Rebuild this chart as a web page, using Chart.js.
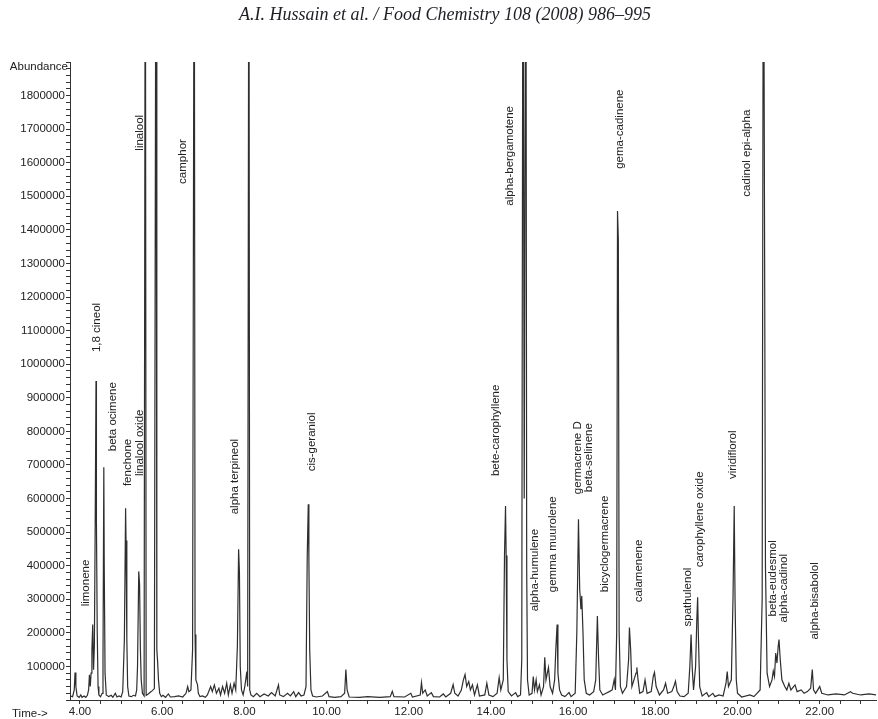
<!DOCTYPE html>
<html>
<head>
<meta charset="utf-8">
<title>Chromatogram</title>
<script src="https://cdn.jsdelivr.net/npm/chart.js@4.4.1/dist/chart.umd.min.js"></script>
<style>
  html, body { margin: 0; padding: 0; background: #fff; }
  #wrap { width: 878px; height: 719px; }
</style>
</head>
<body>
<div id="wrap"><canvas id="chart" width="878" height="719"></canvas></div>
<script>
// Retention time (min) and abundance
const timeMin = [
  3.76, 3.82, 3.86, 3.88, 3.90, 3.93, 3.98, 4.02, 4.05, 4.10,
  4.14, 4.18, 4.21, 4.23, 4.25, 4.27, 4.29, 4.31, 4.33, 4.35,
  4.37, 4.39, 4.40, 4.42, 4.44, 4.46, 4.50, 4.54, 4.56, 4.58,
  4.59, 4.61, 4.64, 4.70, 4.76, 4.80, 4.86, 4.90, 4.95, 5.00,
  5.04, 5.08, 5.11, 5.12, 5.14, 5.16, 5.19, 5.25, 5.30, 5.35,
  5.38, 5.40, 5.43, 5.45, 5.47, 5.49, 5.52, 5.56, 5.59, 5.61,
  5.66, 5.71, 5.76, 5.81, 5.85, 5.87, 5.89, 5.91, 5.94, 5.98,
  6.02, 6.08, 6.15, 6.20, 6.30, 6.40, 6.50, 6.58, 6.62, 6.65,
  6.70, 6.74, 6.78, 6.80, 6.82, 6.86, 6.88, 6.92, 6.98, 7.05,
  7.10, 7.18, 7.22, 7.27, 7.32, 7.38, 7.42, 7.47, 7.52, 7.57,
  7.61, 7.66, 7.70, 7.75, 7.79, 7.83, 7.86, 7.88, 7.90, 7.93,
  7.97, 8.01, 8.06, 8.08, 8.11, 8.13, 8.16, 8.22, 8.30, 8.38,
  8.48, 8.58, 8.66, 8.75, 8.83, 8.86, 8.95, 9.05, 9.12, 9.20,
  9.25, 9.32, 9.38, 9.45, 9.50, 9.53, 9.555, 9.57, 9.59, 9.62,
  9.66, 9.75, 9.90, 10.02, 10.06, 10.20, 10.35, 10.44, 10.47, 10.50,
  10.55, 10.80, 11.00, 11.30, 11.55, 11.60, 11.64, 11.90, 12.05, 12.09,
  12.28, 12.31, 12.34, 12.40, 12.45, 12.55, 12.60, 12.75, 12.84, 12.90,
  13.02, 13.08, 13.12, 13.20, 13.28, 13.33, 13.37, 13.41, 13.46, 13.50,
  13.55, 13.60, 13.67, 13.72, 13.85, 13.90, 13.95, 14.05, 14.15, 14.20,
  14.24, 14.30, 14.33, 14.355, 14.37, 14.39, 14.42, 14.50, 14.60, 14.65,
  14.72, 14.75, 14.78, 14.81, 14.85, 14.87, 14.89, 14.93, 15.00, 15.03,
  15.06, 15.10, 15.13, 15.18, 15.22, 15.28, 15.31, 15.34, 15.40, 15.44,
  15.50, 15.55, 15.58, 15.61, 15.63, 15.67, 15.72, 15.80, 15.90, 15.95,
  16.05, 16.09, 16.13, 16.16, 16.19, 16.21, 16.24, 16.27, 16.32, 16.40,
  16.50, 16.55, 16.59, 16.62, 16.65, 16.72, 16.80, 16.88, 16.95, 17.00,
  17.03, 17.06, 17.08, 17.10, 17.12, 17.15, 17.20, 17.30, 17.35, 17.37,
  17.40, 17.43, 17.48, 17.53, 17.55, 17.58, 17.62, 17.70, 17.75, 17.80,
  17.90, 17.95, 17.98, 18.02, 18.10, 18.20, 18.25, 18.30, 18.40, 18.45,
  18.49, 18.53, 18.60, 18.70, 18.80, 18.84, 18.87, 18.90, 18.93, 18.98,
  19.01, 19.03, 19.05, 19.08, 19.14, 19.25, 19.30, 19.40, 19.45, 19.55,
  19.65, 19.72, 19.75, 19.78, 19.85, 19.89, 19.92, 19.94, 19.97, 20.00,
  20.10, 20.30, 20.40, 20.55, 20.60, 20.63, 20.66, 20.68, 20.72, 20.78,
  20.84, 20.87, 20.90, 20.93, 20.96, 20.99, 21.01, 21.04, 21.08, 21.15,
  21.20, 21.25, 21.30, 21.40, 21.45, 21.55, 21.62, 21.70, 21.78, 21.82,
  21.85, 21.90, 22.00, 22.05, 22.20, 22.40, 22.60, 22.75, 22.80, 23.00,
  23.20, 23.37
];
const abundance = [
  12000, 10000, 30000, 82000, 40000, 12000, 8000, 15000, 8000, 12000,
  8000, 14000, 30000, 75000, 40000, 80000, 150000, 225000, 90000, 160000,
  520000, 950000, 532000, 200000, 40000, 15000, 10000, 20000, 120000, 693000,
  400000, 80000, 15000, 10000, 14000, 8000, 20000, 9000, 12000, 9000,
  25000, 180000, 571000, 475000, 180000, 40000, 12000, 10000, 14000, 12000,
  30000, 100000, 383000, 345000, 150000, 60000, 20000, 12000, 2600000, 14000,
  18000, 23000, 28000, 34000, 2600000, 150000, 112000, 60000, 20000, 10000,
  14000, 8000, 18000, 9000, 10000, 12000, 9000, 20000, 40000, 25000,
  30000, 150000, 2600000, 195000, 60000, 45000, 20000, 10000, 12000, 8000,
  15000, 40000, 25000, 45000, 20000, 35000, 15000, 40000, 20000, 50000,
  15000, 45000, 20000, 50000, 30000, 160000, 449000, 380000, 100000, 30000,
  15000, 40000, 85000, 40000, 2600000, 30000, 15000, 10000, 20000, 10000,
  18000, 12000, 22000, 12000, 45000, 15000, 10000, 20000, 12000, 25000,
  10000, 22000, 12000, 15000, 40000, 430000, 583000, 420000, 150000, 30000,
  12000, 9000, 12000, 25000, 10000, 8000, 10000, 20000, 91000, 30000,
  9000, 8000, 10000, 8000, 10000, 26000, 10000, 9000, 20000, 9000,
  15000, 52000, 20000, 30000, 12000, 22000, 10000, 9000, 18000, 9000,
  20000, 46000, 20000, 12000, 30000, 60000, 76000, 40000, 55000, 30000,
  45000, 15000, 45000, 12000, 15000, 50000, 15000, 10000, 20000, 67000,
  30000, 60000, 430000, 578000, 430000, 120000, 25000, 12000, 22000, 10000,
  15000, 120000, 2600000, 600000, 2600000, 390000, 60000, 15000, 20000, 70000,
  30000, 60000, 25000, 45000, 15000, 40000, 127000, 60000, 97000, 40000,
  20000, 60000, 155000, 225000, 80000, 30000, 15000, 10000, 22000, 10000,
  20000, 200000, 538000, 330000, 270000, 310000, 200000, 60000, 20000, 15000,
  25000, 60000, 250000, 120000, 30000, 15000, 20000, 25000, 30000, 61000,
  30000, 200000, 1456000, 1373000, 200000, 40000, 20000, 40000, 120000, 216000,
  150000, 40000, 60000, 80000, 97000, 60000, 20000, 25000, 60000, 20000,
  25000, 70000, 82000, 40000, 15000, 30000, 50000, 20000, 25000, 40000,
  56000, 25000, 12000, 10000, 20000, 100000, 195000, 90000, 30000, 100000,
  240000, 306000, 180000, 40000, 12000, 22000, 10000, 20000, 10000, 15000,
  12000, 50000, 85000, 40000, 60000, 300000, 578000, 300000, 60000, 20000,
  9000, 15000, 10000, 30000, 300000, 2600000, 1305000, 400000, 80000, 40000,
  60000, 86000, 70000, 140000, 110000, 160000, 180000, 120000, 60000, 40000,
  30000, 50000, 30000, 45000, 25000, 30000, 20000, 25000, 35000, 91000,
  30000, 20000, 40000, 20000, 15000, 18000, 15000, 25000, 20000, 15000,
  18000, 15000
];

// Peak labels: name, retention time of the label, abundance where the text starts
const peakNames = [
  'limonene', '1,8 cineol', 'beta ocimene', 'fenchone', 'linalool oxide',
  'linalool', 'camphor', 'alpha terpineol', 'cis-geraniol', 'bete-carophyllene',
  'alpha-bergamotene', 'alpha-humulene', 'gemma muurolene', 'germacrene D', 'beta-selinene',
  'bicyclogermacrene', 'gema-cadinene', 'calamenene', 'spathulenol', 'carophyllene oxide',
  'viridiflorol', 'cadinol epi-alpha', 'beta-eudesmol', 'alpha-cadinol', 'alpha-bisabolol'
];
const labelTimes = [
  4.146, 4.406, 4.803, 5.161, 5.460,
  5.460, 6.499, 7.771, 9.638, 14.122,
  14.462, 15.070, 15.509, 16.117, 16.384,
  16.774, 17.139, 17.601, 18.786, 19.085,
  19.888, 20.222, 20.861, 21.129, 21.883
];
const labelLevels = [
  279000, 1036000, 741000, 637000, 667000,
  1636000, 1537000, 553000, 681000, 667000,
  1472000, 264000, 321000, 613000, 619000,
  321000, 1582000, 291000, 219000, 395000,
  658000, 1499000, 249000, 231000, 180000
];

const citation = 'A.I. Hussain et al. / Food Chemistry 108 (2008) 986\u2013995';
const timeRange = [3.757, 23.37];
const abundanceRange = [0, 1900000];

const points = timeMin.map((t, i) => ({ x: t, y: abundance[i] }));

const axisFont = { family: '"Liberation Sans", Arial, sans-serif', size: 11.5 };

// Draws citation, axis captions and the rotated compound names
const annotations = {
  id: 'annotations',
  afterDraw(chart) {
    const { ctx, chartArea } = chart;
    const xs = chart.scales.x;
    const ys = chart.scales.y;
    ctx.save();
    ctx.fillStyle = '#1e1e24';
    ctx.font = 'italic 18px "Liberation Serif", "Times New Roman", serif';
    ctx.textAlign = 'center';
    ctx.textBaseline = 'middle';
    ctx.fillText(citation, 445, 15);

    ctx.fillStyle = '#222';
    ctx.font = '11.5px "Liberation Sans", Arial, sans-serif';
    ctx.textAlign = 'right';
    ctx.fillText('Abundance', chartArea.left - 2, chartArea.top + 5);
    ctx.textAlign = 'left';
    ctx.fillText('Time->', 12, 714);

    peakNames.forEach((name, i) => {
      ctx.save();
      ctx.translate(xs.getPixelForValue(labelTimes[i]), ys.getPixelForValue(labelLevels[i]));
      ctx.rotate(-Math.PI / 2);
      ctx.textAlign = 'left';
      ctx.textBaseline = 'middle';
      ctx.fillText(name, 0, 0);
      ctx.restore();
    });
    ctx.restore();
  }
};

new Chart(document.getElementById('chart'), {
  type: 'line',
  data: {
    datasets: [{
      data: points,
      borderColor: '#2e2e2e',
      borderWidth: 1.2,
      pointRadius: 0,
      tension: 0,
      fill: false
    }]
  },
  options: {
    responsive: false,
    animation: false,
    parsing: false,
    layout: { padding: { top: 62, right: 2, left: 0, bottom: 0 } },
    plugins: {
      legend: { display: false },
      tooltip: { enabled: false },
      title: { display: false }
    },
    scales: {
      x: {
        type: 'linear',
        min: timeRange[0],
        max: timeRange[1],
        afterFit: (s) => { s.height = 19; },
        grid: { drawOnChartArea: false, drawTicks: true, tickLength: 4, color: '#333' },
        border: { display: true, color: '#333', width: 1 },
        ticks: {
          stepSize: 0.5,
          autoSkip: false,
          includeBounds: false,
          maxRotation: 0,
          padding: 1,
          color: '#222',
          font: axisFont,
          callback: (v) => Math.abs(v / 2 - Math.round(v / 2)) < 1e-6 ? v.toFixed(2) : ''
        }
      },
      y: {
        type: 'linear',
        min: abundanceRange[0],
        max: abundanceRange[1],
        afterFit: (s) => { s.width = 70; },
        grid: { drawOnChartArea: false, drawTicks: true, tickLength: 4, color: '#333' },
        border: { display: true, color: '#333', width: 1 },
        ticks: {
          stepSize: 20000,
          autoSkip: false,
          includeBounds: false,
          padding: 1,
          color: '#222',
          font: axisFont,
          callback: (v) => (v > 0 && v < 1900000 && v % 100000 === 0) ? String(v) : ''
        }
      }
    }
  },
  plugins: [annotations]
});
</script>
</body>
</html>
